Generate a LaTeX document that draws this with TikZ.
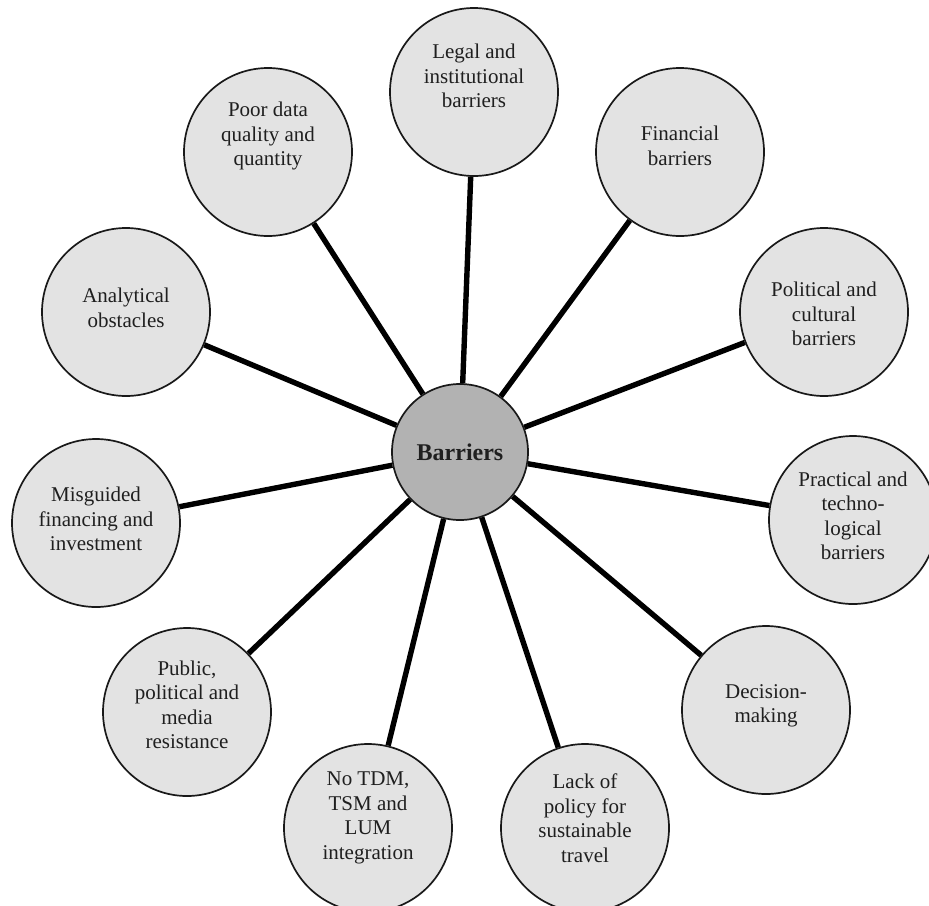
\documentclass[tikz,border=0pt]{standalone}
\usepackage{fontspec}
\setmainfont{Liberation Serif}
\usetikzlibrary{backgrounds}
\begin{document}
\begin{tikzpicture}[x=1pt,y=-1pt,
  hub/.style={circle,draw=black!90,line width=1.7pt,fill=black!30,
    minimum size=136pt,inner sep=0pt},
  outer/.style={circle,draw=black!90,line width=1.7pt,fill=black!11,
    minimum size=168pt,inner sep=0pt},
  txt/.style={align=center,inner sep=0pt,text=black!88,
    font=\fontsize{21}{24.5}\selectfont},
  spoke/.style={line width=5.4pt,draw=black}]
\useasboundingbox (0,0) rectangle (929,905);
\clip (0,0) rectangle (929,905);

% central hub and surrounding barrier circles
\node[hub] (hub) at (460,452) {};
\node[outer] (legal)   at (474,92)  {};
\node[outer] (fin)     at (680,152) {};
\node[outer] (pol)     at (824,312) {};
\node[outer] (prac)    at (853,520) {};
\node[outer] (dec)     at (766,710) {};
\node[outer] (lack)    at (585,828) {};
\node[outer] (notdm)   at (368,828) {};
\node[outer] (pub)     at (187,712) {};
\node[outer] (mis)     at (96,523)  {};
\node[outer] (ana)     at (126,312) {};
\node[outer] (poor)    at (268,152) {};

% spokes from the hub to each circle, kept behind the circles
\begin{scope}[on background layer]
\foreach \n in {legal,fin,pol,prac,dec,lack,notdm,pub,mis,ana,poor}
  \draw[spoke] (hub) -- (\n);
\end{scope}

% labels
\node[txt,font=\bfseries\fontsize{24}{28}\selectfont] (hub-t) at (hub.center) {Barriers};
\node[txt] (legal-t) at ([yshift=16pt]legal.center) {Legal and\\institutional\\barriers};
\node[txt] (fin-t)   at ([yshift=6pt]fin.center)    {Financial\\barriers};
\node[txt] (pol-t)   at ([yshift=-2pt]pol.center)   {Political and\\cultural\\barriers};
\node[txt] (prac-t)  at ([yshift=4pt]prac.center)   {Practical and\\techno-\\logical\\barriers};
\node[txt] (dec-t)   at ([yshift=4pt]dec.center)    {Decision-\\making};
\node[txt] (lack-t)  at ([yshift=10pt]lack.center)  {Lack of\\policy for\\sustainable\\travel};
\node[txt] (notdm-t) at ([yshift=10pt]notdm.center) {No TDM,\\TSM and\\LUM\\integration};
\node[txt] (pub-t)   at ([yshift=7pt]pub.center)    {Public,\\political and\\media\\resistance};
\node[txt] (mis-t)   at ([yshift=4pt]mis.center)    {Misguided\\financing and\\investment};
\node[txt] (ana-t)   at ([yshift=4pt]ana.center)    {Analytical\\obstacles};
\node[txt] (poor-t)  at ([yshift=16pt]poor.center)  {Poor data\\quality and\\quantity};
\end{tikzpicture}
\end{document}
